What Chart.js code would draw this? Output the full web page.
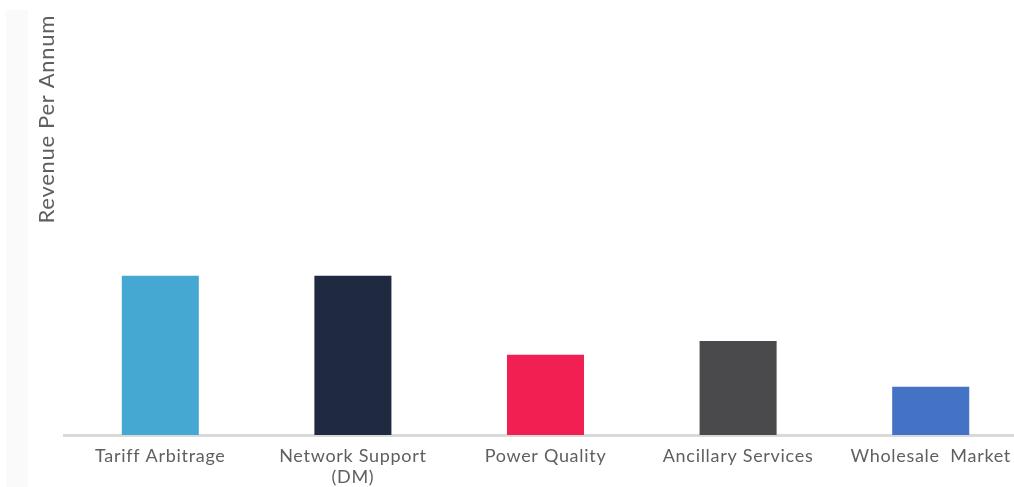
<!DOCTYPE html>
<html>
<head>
<meta charset="utf-8">
<script src="https://cdn.jsdelivr.net/npm/chart.js@4/dist/chart.umd.min.js"></script>
<style>
  html, body { margin: 0; padding: 0; background: #ffffff; overflow: hidden; }
  #wrap { position: relative; width: 1027px; height: 487px; }
</style>
</head>
<body>
<div id="wrap"><canvas id="chart"></canvas></div>
<script>
// Revenue streams and their relative annual revenue (unitless index)
const categories = ['Tariff Arbitrage', ['Network Support', '(DM)'], 'Power Quality', 'Ancillary Services', 'Wholesale  Market'];
const revenue = [3.79, 3.79, 1.91, 2.24, 1.15];
const barColors = ['#45a8d3', '#1f2940', '#f21f52', '#4a4a4c', '#4472c4'];
const axisTitle = 'Revenue Per Annum';
const yMax = 10;

// slightly open lettering for all chart text
const spacing = {
  id: 'spacing',
  beforeLayout(chart) { chart.ctx.letterSpacing = '0.7px'; },
  beforeDraw(chart) { chart.ctx.letterSpacing = '0.7px'; }
};

// faint side strip on the left edge
const sideStrip = {
  id: 'sideStrip',
  beforeDraw(chart) {
    const ctx = chart.ctx;
    ctx.save();
    ctx.fillStyle = '#fafafa';
    ctx.fillRect(6, 10, 22, chart.height - 10);
    ctx.restore();
  }
};

new Chart(document.getElementById('chart'), {
  type: 'bar',
  data: {
    labels: categories,
    datasets: [{
      data: revenue,
      backgroundColor: barColors,
      borderWidth: 0,
      barPercentage: 0.4,
      categoryPercentage: 1.0
    }]
  },
  options: {
    responsive: true,
    maintainAspectRatio: false,
    animation: false,
    layout: { padding: { top: 15, left: 0, right: 0, bottom: 0 } },
    plugins: { legend: { display: false }, tooltip: { enabled: false } },
    scales: {
      x: {
        grid: { display: false, drawTicks: false },
        border: { display: true, color: '#d9d9d9', width: 3 },
        ticks: {
          color: '#5f5f5f',
          font: { family: 'Lato', size: 18 },
          padding: 10,
          maxRotation: 0,
          autoSkip: false
        },
        afterFit(scale) { scale.height = 52; }
      },
      y: {
        min: 0,
        max: yMax,
        grid: { display: false, drawTicks: false },
        border: { display: false },
        ticks: { display: false },
        title: {
          display: true,
          text: axisTitle,
          align: 'end',
          color: '#5f5f5f',
          font: { family: 'Lato', size: 22 },
          padding: { top: 34, bottom: 0 }
        },
        afterFit(scale) { scale.width = 64; }
      }
    }
  },
  plugins: [spacing, sideStrip]
});
</script>
</body>
</html>
